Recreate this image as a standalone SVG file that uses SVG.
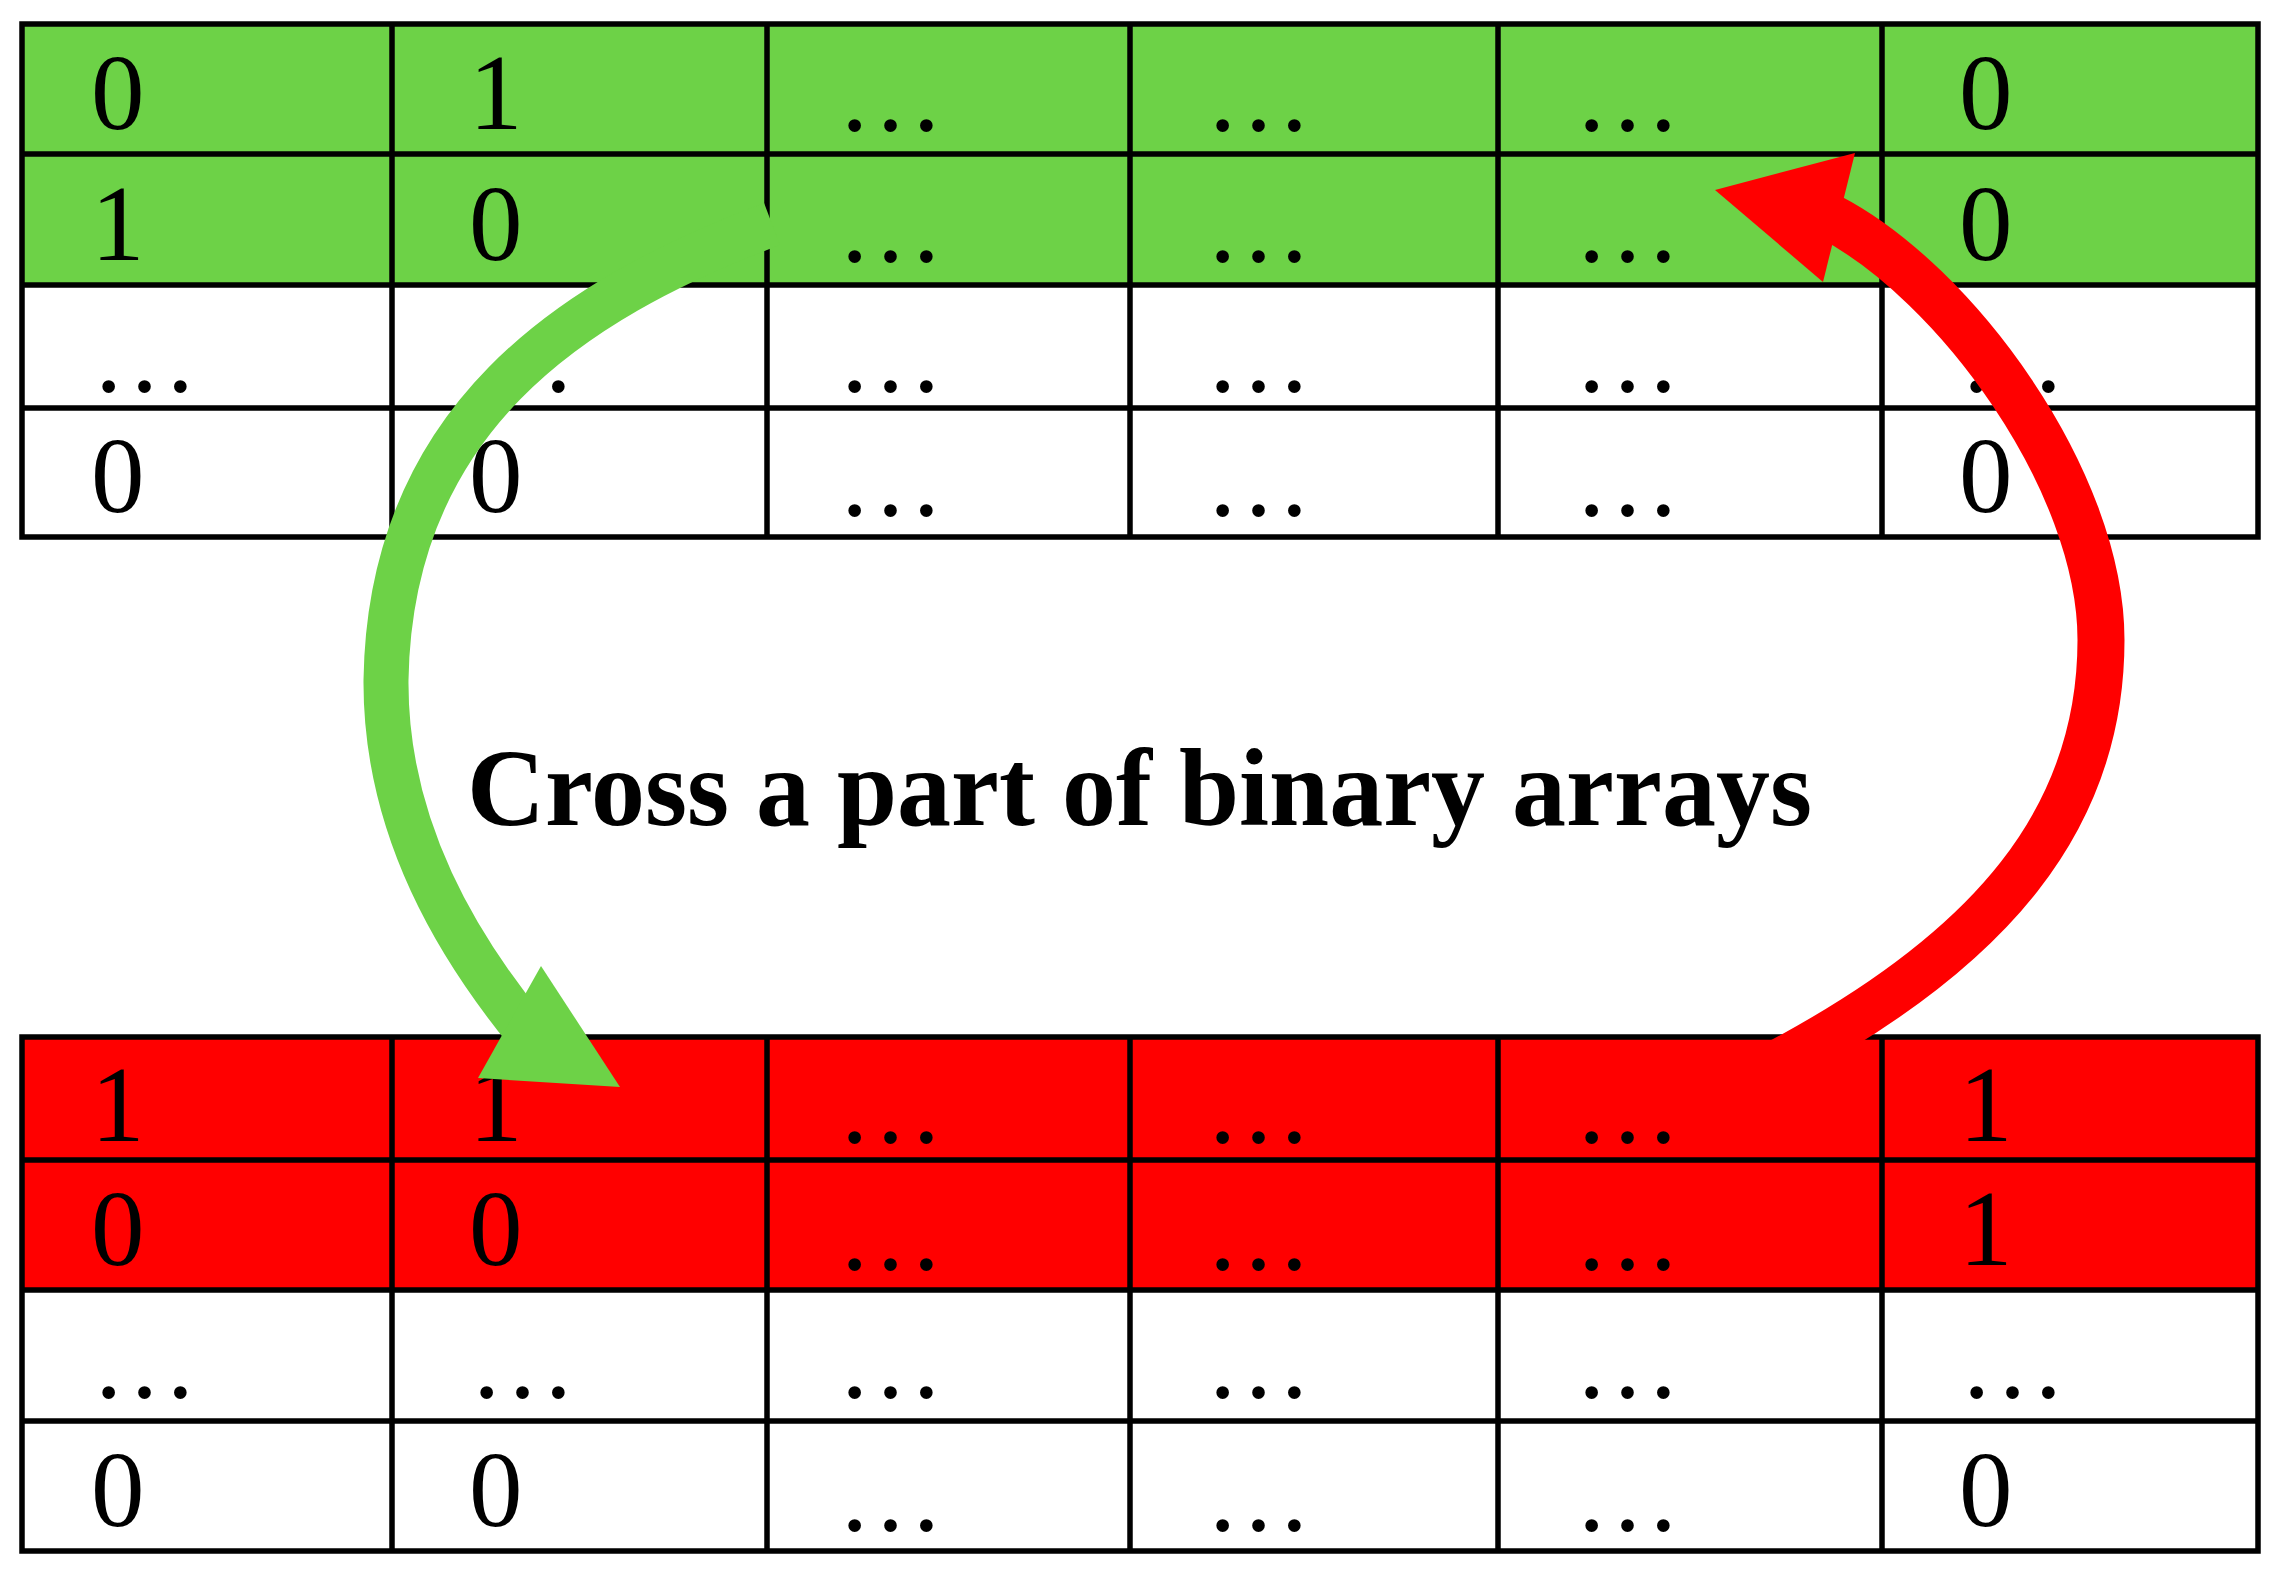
<svg xmlns="http://www.w3.org/2000/svg" width="2285" height="1581" viewBox="0 0 2285 1581">
<style>
.grid{stroke:#000;stroke-width:5.5;fill:none;stroke-linecap:square}
.cell{font-family:"Liberation Serif","Times New Roman",serif;font-size:107px;fill:#000}
.title{font-family:"Liberation Serif","Times New Roman",serif;font-size:110px;font-weight:bold;fill:#000}
.g{fill:#6dd247}
.r{fill:#ff0000}
.gs{stroke:#6dd247;stroke-width:45;fill:none}
.rs{stroke:#ff0000;stroke-width:47;fill:none}
</style>
<rect width="2285" height="1581" fill="#fff"/>

<g id="top-table">
<rect class="g" x="22" y="24" width="2236" height="261"/>
<path class="grid" d="M22 24H2258V537H22Z M22 154H2258 M22 285H2258 M22 408H2258 M392 24V537 M767 24V537 M1130 24V537 M1498 24V537 M1882 24V537"/>
<g class="cell">
<text x="91" y="129">0</text><text x="469" y="129">1</text><text x="837" y="130">…</text><text x="1205" y="130">…</text><text x="1574" y="130">…</text><text x="1959" y="129">0</text>
<text x="91" y="260">1</text><text x="469" y="260">0</text><text x="837" y="261">…</text><text x="1205" y="261">…</text><text x="1574" y="261">…</text><text x="1959" y="260">0</text>
<text x="91" y="391">…</text><text x="469" y="391">…</text><text x="837" y="391">…</text><text x="1205" y="391">…</text><text x="1574" y="391">…</text><text x="1959" y="391">…</text>
<text x="91" y="512">0</text><text x="469" y="512">0</text><text x="837" y="515">…</text><text x="1205" y="515">…</text><text x="1574" y="515">…</text><text x="1959" y="512">0</text>
</g>
</g>

<g id="bottom-table">
<rect class="r" x="22" y="1037" width="2236" height="253"/>
<path class="grid" d="M22 1037H2258V1551H22Z M22 1160H2258 M22 1290H2258 M22 1421H2258 M392 1037V1551 M767 1037V1551 M1130 1037V1551 M1498 1037V1551 M1882 1037V1551"/>
<g class="cell">
<text x="91" y="1141">1</text><text x="469" y="1141">1</text><text x="837" y="1142">…</text><text x="1205" y="1142">…</text><text x="1574" y="1142">…</text><text x="1959" y="1141">1</text>
<text x="91" y="1265">0</text><text x="469" y="1265">0</text><text x="837" y="1269">…</text><text x="1205" y="1269">…</text><text x="1574" y="1269">…</text><text x="1959" y="1265">1</text>
<text x="91" y="1397">…</text><text x="469" y="1397">…</text><text x="837" y="1397">…</text><text x="1205" y="1397">…</text><text x="1574" y="1397">…</text><text x="1959" y="1397">…</text>
<text x="91" y="1526">0</text><text x="469" y="1526">0</text><text x="837" y="1530">…</text><text x="1205" y="1530">…</text><text x="1574" y="1530">…</text><text x="1959" y="1526">0</text>
</g>
</g>

<g id="label">
<text class="title" x="467" y="825" textLength="1345" lengthAdjust="spacingAndGlyphs">Cross a part of binary arrays</text>
</g>

<g id="connectors">
<g id="green-arrow">
<path class="gs" d="M772 224 C570 300 390 420 386 680 C385 830 460 950 530 1035"/>
<polygon class="g" points="478,1078 541,966 620,1087"/>
</g>
<g id="red-arrow">
<path class="rs" d="M1780 1062 C1990 950 2101 820 2101 640 C2101 480 1955 282 1830 217"/>
<polygon class="r" points="1715,190 1855,153 1823,282"/>
</g>
</g>
</svg>
